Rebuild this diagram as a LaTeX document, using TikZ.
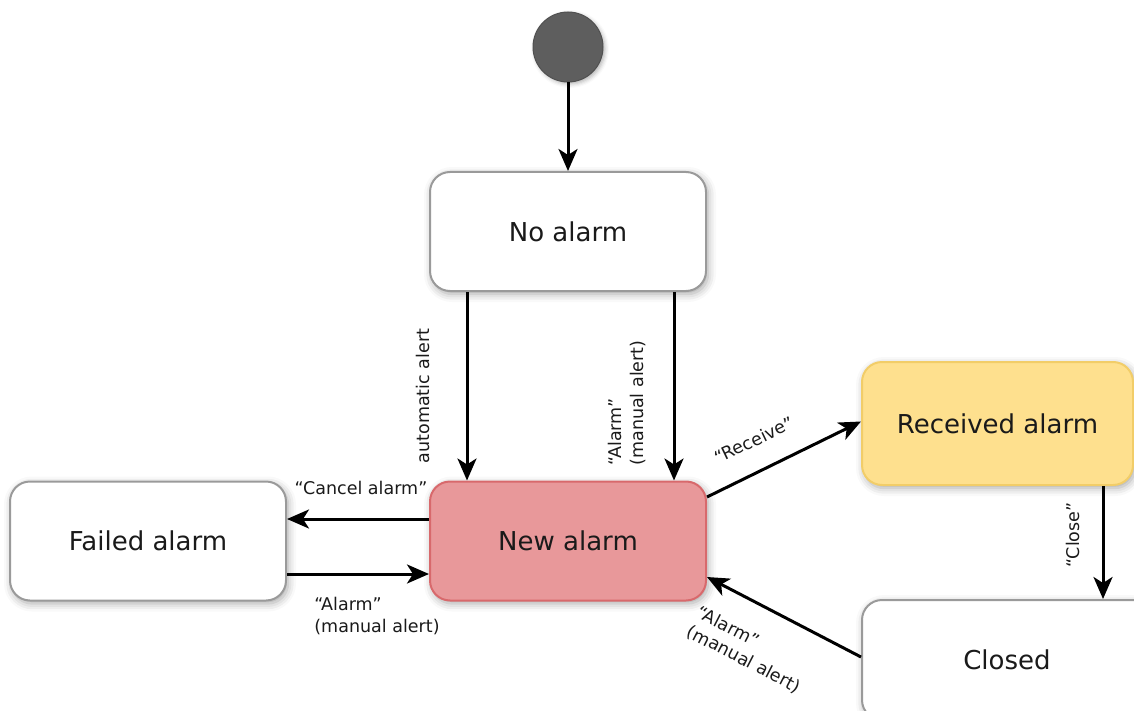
\documentclass[tikz,border=0pt]{standalone}
\usepackage{fontspec}
\setmainfont{DejaVu Sans}
\usetikzlibrary{arrows.meta,shadows.blur}

\definecolor{boxline}{HTML}{9A9A9A}
\definecolor{newfill}{HTML}{E8989A}
\definecolor{newline}{HTML}{D8696C}
\definecolor{recfill}{HTML}{FEE08E}
\definecolor{recline}{HTML}{F2CD68}
\definecolor{initfill}{HTML}{5E5E5E}
\definecolor{txt}{HTML}{1A1A1A}

\tikzset{
  state/.style={draw=boxline, line width=2pt, fill=white, rounded corners=20pt,
    minimum width=276pt, minimum height=119pt, inner sep=0pt,
    font=\fontsize{26}{31}\selectfont, text=txt,
    blur shadow={shadow xshift=2pt, shadow yshift=-3pt, shadow blur radius=8pt, shadow opacity=35}},
  initstate/.style={circle, draw=initfill!85!black, fill=initfill, line width=1pt,
    minimum size=70pt, inner sep=0pt,
    blur shadow={shadow xshift=2pt, shadow yshift=-2pt, shadow blur radius=4pt, shadow opacity=30}},
  arr/.style={line width=3pt, black, -{Stealth[length=22pt,width=19pt,inset=6pt]}},
  lbl/.style={font=\fontsize{17.5}{22}\selectfont, text=txt, inner sep=1pt, align=left}
}

\begin{document}
\begin{tikzpicture}[x=1pt, y=-1pt]
\useasboundingbox (0,0) rectangle (1134,711);
\clip (0,0) rectangle (1134,711);

% states
\node[initstate] (init) at (568,47) {};
\node[state] (noalarm) at (568,231.5) {No alarm};
\node[state, fill=newfill, draw=newline] (new) at (568,541) {New alarm};
\node[state] (failed) at (148,541) {Failed alarm};
\node[state, fill=recfill, draw=recline, minimum width=271pt, minimum height=123pt] (received) at (997.5,423.5) {Received alarm};
\node[state, minimum width=290pt, minimum height=120pt] (closed) at (1007,660) {Closed};

% transitions
\draw[arr] (init.south) -- (noalarm.north);
\draw[arr] ([xshift=-101pt]noalarm.south) -- ([xshift=-101pt]new.north);
\draw[arr] ([xshift=106pt]noalarm.south) -- ([xshift=106pt]new.north);
\draw[arr] ([yshift=22pt]new.west) -- ([yshift=22pt]failed.east);
\draw[arr] ([yshift=-33pt]failed.east) -- ([yshift=-33pt]new.west);
\draw[arr] ([yshift=44pt]new.east) -- ([yshift=2pt]received.west);
\draw[arr] ([xshift=105.5pt]received.south) -- ([xshift=96pt]closed.north);
\draw[arr] ([yshift=3pt]closed.west) -- ([yshift=-36pt]new.east);

% transition labels
\node[lbl, rotate=90] (lauto) at (423,396) {automatic alert};
\node[lbl, rotate=90] (lmanual) at (627,403) {“Alarm”\\(manual alert)};
\node[lbl] (lcancel) at (361,488) {“Cancel alarm”};
\node[lbl] (lfailed) at (377,616) {“Alarm”\\(manual alert)};
\node[lbl, rotate=25.7] (lreceive) at (754,440) {“Receive”};
\node[lbl, rotate=90] (lclose) at (1073,535) {“Close”};
\node[lbl, rotate=-27.3] (lclosed) at (749,650) {“Alarm”\\(manual alert)};
\end{tikzpicture}
\end{document}
